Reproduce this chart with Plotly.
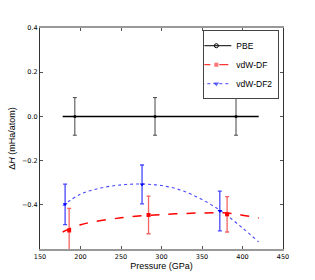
import plotly.graph_objects as go

# PBE
pbe_p = [193, 292, 392]
pbe_h = [0.0, 0.0, 0.0]
pbe_err = [0.085, 0.085, 0.085]
pbe_fit_p = [178, 420]
pbe_fit_h = [0.0, 0.0]

# vdW-DF
df_p = [186, 284, 381]
df_h = [-0.516, -0.446, -0.443]
df_err = [0.10, 0.085, 0.08]
df_fit_p = [178, 200, 250, 300, 350, 380, 400, 420]
df_fit_h = [-0.523, -0.490, -0.459, -0.444, -0.437, -0.437, -0.447, -0.460]

# vdW-DF2
df2_p = [181, 276, 372]
df2_h = [-0.398, -0.308, -0.428]
df2_err = [0.092, 0.088, 0.09]
df2_fit_p = [178, 200, 225, 250, 275, 300, 325, 350, 375, 400, 420]
df2_fit_h = [-0.404, -0.352, -0.324, -0.310, -0.306, -0.313, -0.335, -0.376, -0.432, -0.505, -0.568]

x_ticks = [150, 200, 250, 300, 350, 400, 450]
y_ticks = [-0.4, -0.2, 0.0, 0.2, 0.4]

fig = go.Figure()

# fits
fig.add_trace(go.Scatter(x=pbe_fit_p, y=pbe_fit_h, mode="lines",
                         line=dict(color="black", width=1.5), showlegend=False))
fig.add_trace(go.Scatter(x=df_fit_p, y=df_fit_h, mode="lines", line_shape="spline",
                         line=dict(color="red", width=1.5, dash="dash"), showlegend=False))
fig.add_trace(go.Scatter(x=df2_fit_p, y=df2_fit_h, mode="lines", line_shape="spline",
                         line=dict(color="#4a4aff", width=1.1, dash="dot"), showlegend=False))

# data with error bars
fig.add_trace(go.Scatter(x=pbe_p, y=pbe_h, mode="markers",
                         marker=dict(symbol="circle", size=3, color="black"),
                         error_y=dict(type="data", array=pbe_err, color="#444444",
                                      thickness=1, width=2), showlegend=False))
fig.add_trace(go.Scatter(x=df_p, y=df_h, mode="markers",
                         marker=dict(symbol="square", size=4, color="red"),
                         error_y=dict(type="data", array=df_err, color="rgba(240,60,60,0.8)",
                                      thickness=1.3, width=2), showlegend=False))
fig.add_trace(go.Scatter(x=df2_p, y=df2_h, mode="markers",
                         marker=dict(symbol="triangle-down", size=4, color="blue"),
                         error_y=dict(type="data", array=df2_err, color="rgba(40,40,255,0.85)",
                                      thickness=1.3, width=2), showlegend=False))

# legend entries
fig.add_trace(go.Scatter(x=[None], y=[None], mode="lines+markers", name="PBE",
                         line=dict(color="black", width=1),
                         marker=dict(symbol="circle-open", size=4, color="black")))
fig.add_trace(go.Scatter(x=[None], y=[None], mode="lines+markers", name="vdW-DF",
                         line=dict(color="red", width=1, dash="dash"),
                         marker=dict(symbol="square", size=4, color="rgba(255,80,80,0.8)")))
fig.add_trace(go.Scatter(x=[None], y=[None], mode="lines+markers", name="vdW-DF2",
                         line=dict(color="#4444ff", width=1, dash="dot"),
                         marker=dict(symbol="triangle-down", size=5, color="rgba(60,60,255,0.8)")))

fig.update_layout(
    width=315, height=280,
    margin=dict(l=39, r=32, t=28, b=28),
    paper_bgcolor="white", plot_bgcolor="white",
    font=dict(family="DejaVu Sans", color="black"),
    legend=dict(x=0.985, y=0.99, xanchor="right", yanchor="top",
                bgcolor="white", bordercolor="#444444", borderwidth=1,
                font=dict(size=8.5, family="Liberation Sans"), tracegroupgap=0,
                itemwidth=30, indentation=-8),
    xaxis=dict(range=[150, 450], tickvals=x_ticks, ticktext=[str(v) for v in x_ticks],
               ticks="inside", ticklen=3, tickcolor="#555555", mirror="ticks",
               showline=True, linecolor="#999999", linewidth=1.5, showgrid=False,
               zeroline=False, tickfont=dict(size=6.5),
               title=dict(text="Pressure (GPa)", font=dict(size=9, family="Liberation Sans"), standoff=1)),
    yaxis=dict(range=[-0.6, 0.4], tickvals=y_ticks,
               ticktext=["\u22120.4", "\u22120.2", "0.0", "0.2", "0.4"],
               ticks="inside", ticklen=3, tickcolor="#555555", mirror="ticks",
               showline=True, linecolor="#333333", linewidth=1, showgrid=False,
               zeroline=False, tickfont=dict(size=6.5),
               title=dict(text="\u0394<i>H</i> (mHa/atom)", font=dict(size=9, family="Liberation Sans"), standoff=4)),
)

fig.write_html("out.html", config={"displayModeBar": False},
               post_script="document.body.style.margin='0';")
